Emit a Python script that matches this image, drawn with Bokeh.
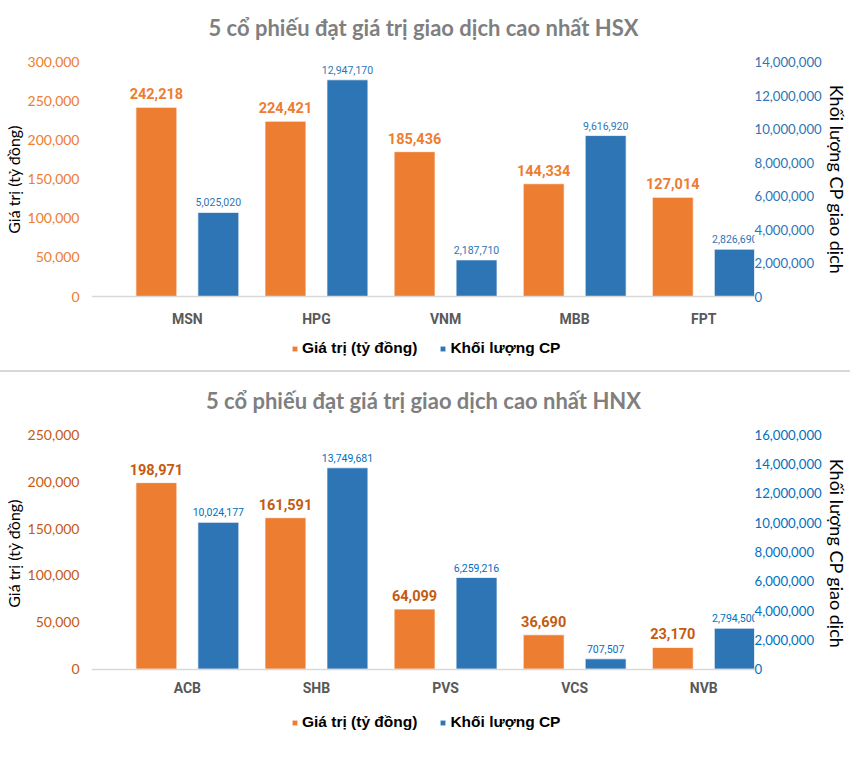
from bokeh.plotting import figure
from bokeh.models import (Range1d, LinearAxis, FixedTicker, NumeralTickFormatter,
                          LabelSet, Label, ColumnDataSource, Legend, LegendItem, Div)
from bokeh.core.properties import value
from bokeh.layouts import column
from bokeh.transform import dodge
from bokeh.embed import file_html
from bokeh.resources import INLINE

# ---------------- data ----------------
hsx_title = "5 cổ phiếu đạt giá trị giao dịch cao nhất HSX"
hsx_codes = ["MSN", "HPG", "VNM", "MBB", "FPT"]
hsx_value = [242218, 224421, 185436, 144334, 127014]          # Giá trị (tỷ đồng)
hsx_volume = [5025020, 12947170, 2187710, 9616920, 2826690]   # Khối lượng CP
hsx_left_ticks = [0, 50000, 100000, 150000, 200000, 250000, 300000]
hsx_right_ticks = [0, 2000000, 4000000, 6000000, 8000000, 10000000, 12000000, 14000000]

hnx_title = "5 cổ phiếu đạt giá trị giao dịch cao nhất HNX"
hnx_codes = ["ACB", "SHB", "PVS", "VCS", "NVB"]
hnx_value = [198971, 161591, 64099, 36690, 23170]
hnx_volume = [10024177, 13749681, 6259216, 707507, 2794500]
hnx_left_ticks = [0, 50000, 100000, 150000, 200000, 250000]
hnx_right_ticks = [0, 2000000, 4000000, 6000000, 8000000, 10000000, 12000000,
                   14000000, 16000000]

series_names = ["Giá trị (tỷ đồng)", "Khối lượng CP"]
left_axis_title = "Giá trị (tỷ đồng)"
right_axis_title = "Khối lượng CP giao dịch"

ORANGE = "#ED7D31"
BLUE = "#2E75B6"
W = 850

# horizontal layout (pixels)
FRAME_L, FRAME_R = 90, 754
CAT0_PX, CAT_STEP = 186, 129.3
TITLE_X_PX = 422.5


def px_to_x(px):
    return (px - CAT0_PX) / CAT_STEP


def make_chart(title, codes, values, volumes, left_ticks, right_ticks, height,
               frame_top, frame_bottom, zero_px, top_tick_px, title_px,
               left_col, right_col, val_col, vol_col, cat_standoff, legend_y):
    lmax, rmax = left_ticks[-1], right_ticks[-1]
    plot_px = zero_px - top_tick_px

    def yl(px):
        return (zero_px - px) / plot_px * lmax

    def yr(px):
        return (zero_px - px) / plot_px * rmax

    idx = list(range(len(codes)))
    src = ColumnDataSource(dict(
        x=idx, val=values, vol=volumes,
        val_txt=[f"{v:,}" for v in values],
        vol_txt=[f"{v:,}" for v in volumes],
    ))
    p = figure(width=W, height=height, output_backend="svg", toolbar_location=None,
               x_range=Range1d(px_to_x(FRAME_L), px_to_x(FRAME_R)),
               y_range=Range1d(yl(frame_bottom), yl(frame_top)),
               min_border_left=FRAME_L, min_border_right=W - FRAME_R,
               min_border_top=frame_top, min_border_bottom=height - frame_bottom)
    p.extra_y_ranges = {"vol": Range1d(yr(frame_bottom), yr(frame_top))}
    p.title.visible = False
    p.outline_line_color = None
    p.xgrid.grid_line_color = None
    p.ygrid.grid_line_color = None
    p.background_fill_color = "white"
    p.border_fill_color = "white"

    p.add_layout(Label(x=px_to_x(TITLE_X_PX), y=yl(title_px), text=title,
                       text_align="center", text_baseline="middle",
                       text_font="Lato", text_font_size="22px",
                       text_font_style="bold", text_color="#7f7f7f"))

    bw = 0.317
    r1 = p.vbar(x=dodge("x", -0.24), top="val", bottom=0, width=bw, source=src,
                fill_color=ORANGE, line_color="white", line_alpha=0.7)
    r2 = p.vbar(x=dodge("x", 0.24), top="vol", bottom=0, width=bw, source=src,
                y_range_name="vol", fill_color=BLUE, line_color="white", line_alpha=0.7)

    p.add_layout(LabelSet(x=dodge("x", -0.24), y="val", text="val_txt", source=src,
                          text_align="center", text_baseline="bottom", y_offset=8,
                          text_font=value("Roboto"), text_font_style="bold",
                          text_font_size="14.5px", text_color=val_col))
    p.add_layout(LabelSet(x=dodge("x", 0.24), y="vol", text="vol_txt", source=src,
                          y_range_name="vol",
                          text_align="center", text_baseline="bottom", y_offset=6,
                          text_font=value("Roboto"),
                          text_font_size="10.5px", text_color=vol_col))

    # x axis drawn on the zero line
    xa = p.xaxis[0]
    xa.fixed_location = 0
    xa.ticker = FixedTicker(ticks=idx)
    xa.major_label_overrides = {i: c for i, c in zip(idx, codes)}
    xa.axis_line_color = "#d9d9d9"
    xa.axis_line_width = 1.5
    xa.major_tick_line_color = None
    xa.minor_tick_line_color = None
    xa.major_tick_out = 0
    xa.major_tick_in = 0
    xa.major_label_standoff = cat_standoff
    xa.major_label_text_font = "Roboto"
    xa.major_label_text_font_style = "bold"
    xa.major_label_text_font_size = "14px"
    xa.major_label_text_color = "#595959"

    # left axis
    ya = p.yaxis[0]
    ya.ticker = FixedTicker(ticks=left_ticks)
    ya.formatter = NumeralTickFormatter(format="0,0")
    ya.axis_line_color = None
    ya.major_tick_line_color = None
    ya.minor_tick_line_color = None
    ya.major_tick_out = 0
    ya.major_tick_in = 0
    ya.major_label_standoff = 12
    ya.major_label_text_font = "Lato"
    ya.major_label_text_font_size = "14px"
    ya.major_label_text_color = left_col
    ya.axis_label = left_axis_title
    ya.axis_label_standoff = 2
    ya.axis_label_text_font = "Lato"
    ya.axis_label_text_font_size = "16px"
    ya.axis_label_text_font_style = "normal"
    ya.axis_label_text_color = "black"

    # right axis
    ra = LinearAxis(y_range_name="vol", ticker=FixedTicker(ticks=right_ticks),
                    formatter=NumeralTickFormatter(format="0,0"))
    ra.axis_line_color = None
    ra.major_tick_line_color = None
    ra.minor_tick_line_color = None
    ra.major_tick_out = 0
    ra.major_tick_in = 0
    ra.major_label_standoff = 0
    ra.major_label_text_font = "Lato"
    ra.major_label_text_font_size = "13.2px"
    ra.major_label_text_color = right_col
    ra.axis_label = right_axis_title
    ra.axis_label_standoff = 1
    ra.axis_label_text_font = "Lato"
    ra.axis_label_text_font_size = "18px"
    ra.axis_label_text_font_style = "normal"
    ra.axis_label_text_color = "black"
    p.add_layout(ra, "right")

    legend = Legend(items=[LegendItem(label=series_names[0], renderers=[r1]),
                           LegendItem(label=series_names[1], renderers=[r2])],
                    orientation="horizontal", location=(200, legend_y),
                    border_line_color=None, background_fill_alpha=0,
                    label_text_font="Liberation Sans", label_text_font_style="bold",
                    label_text_font_size="15.5px", label_text_color="black",
                    glyph_width=7, glyph_height=7, label_standoff=4, spacing=22,
                    padding=0, margin=0)
    p.add_layout(legend, "center")
    return p


# top chart: figure spans page y 0..370
p1 = make_chart(hsx_title, hsx_codes, hsx_value, hsx_volume, hsx_left_ticks,
                hsx_right_ticks, 370, 0, 358, 296, 61.7, 27,
                ORANGE, BLUE, ORANGE, BLUE, 14, 1)
# bottom chart: figure spans page y 372..770
p2 = make_chart(hnx_title, hnx_codes, hnx_value, hnx_volume, hnx_left_ticks,
                hnx_right_ticks, 398, 0, 362, 296.7, 62.3, 28,
                "#C55A11", "#0070C0", "#C55A11", "#0070C0", 11, 3)

sep = Div(width=W, height=2, margin=(0, 0, 0, 0),
          styles={"background-color": "#d9d9d9"})

layout = column(p1, sep, p2, spacing=0)
open("out.html", "w").write(file_html(layout, INLINE))
